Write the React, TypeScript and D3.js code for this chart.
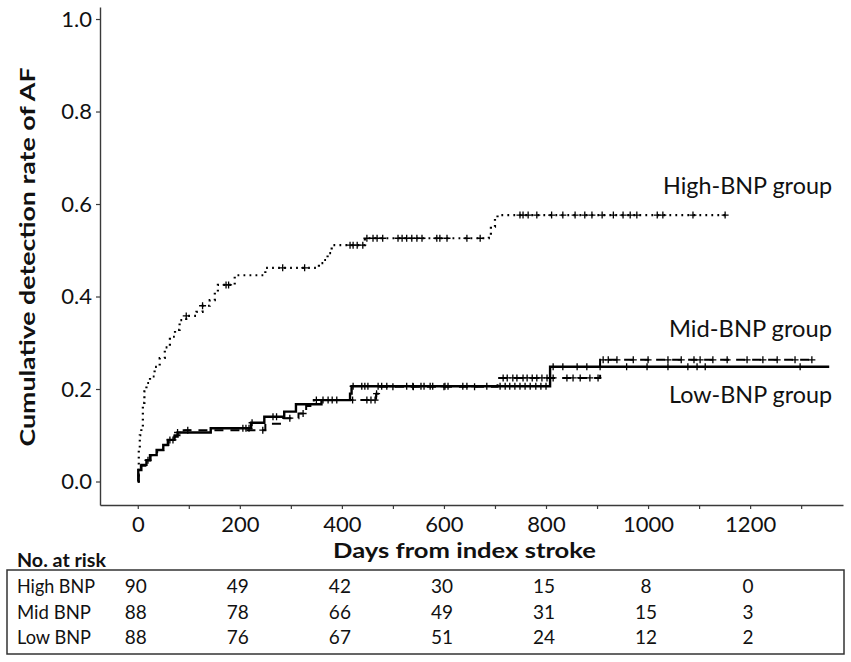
import React, { useRef, useEffect } from 'react';
import * as d3 from 'd3';

// Kaplan-Meier style cumulative incidence steps (day of step, rate after step)
const highTimes = [0, 2, 4, 7, 10, 13, 17, 24, 33, 43, 53, 63, 73, 82, 95, 115, 127, 141, 151, 157, 190, 250, 355, 365, 372, 380, 445, 688, 692, 700, 705];
const highRates = [0, 0.068, 0.1, 0.118, 0.17, 0.195, 0.213, 0.227, 0.248, 0.267, 0.29, 0.313, 0.328, 0.349, 0.358, 0.367, 0.38, 0.392, 0.41, 0.425, 0.446, 0.462, 0.472, 0.479, 0.494, 0.511, 0.526, 0.533, 0.551, 0.569, 0.576];
const highEnd = 1151;

const midTimes = [0, 2, 6, 15, 25, 38, 50, 60, 72, 90, 250, 285, 315, 330, 345, 467, 473, 705, 906];
const midRates = [0, 0.023, 0.034, 0.046, 0.057, 0.068, 0.079, 0.09, 0.1, 0.111, 0.125, 0.137, 0.147, 0.163, 0.176, 0.19, 0.205, 0.224, 0.263];
const midEnd = 1321;

const lowTimes = [0, 1, 7, 17, 24, 37, 50, 59, 72, 78, 143, 222, 248, 287, 310, 360, 416, 419, 808];
const lowRates = [0, 0.025, 0.036, 0.046, 0.057, 0.068, 0.079, 0.09, 0.097, 0.106, 0.115, 0.127, 0.14, 0.151, 0.167, 0.176, 0.19, 0.206, 0.248];
const lowEnd = 1355;

// censored observations (days)
const highCensor = [95, 127, 173, 178, 284, 327, 416, 422, 430, 441, 449, 461, 469, 480, 510, 518, 527, 537, 547, 557, 586, 592, 606, 645, 671, 749, 755, 765, 782, 811, 833, 857, 876, 890, 910, 932, 951, 965, 978, 1018, 1029, 1088, 1151];
const midCensor = [69, 98, 245, 298, 324, 350, 421, 449, 457, 465, 468, 500, 540, 600, 660, 716, 724, 735, 743, 755, 763, 773, 782, 792, 802, 814, 841, 853, 867, 886, 902, 912, 922, 939, 971, 1000, 1039, 1065, 1090, 1102, 1127, 1155, 1194, 1225, 1253, 1288, 1321];
const lowCensor = [20, 63, 78, 206, 212, 218, 224, 265, 272, 363, 373, 381, 390, 422, 439, 445, 451, 471, 478, 488, 527, 539, 555, 561, 573, 578, 602, 608, 637, 645, 684, 710, 720, 729, 739, 749, 759, 769, 780, 790, 800, 814, 833, 861, 880, 906, 958, 998, 1039, 1078, 1096, 1112, 1298];

// number at risk table
const riskDays = [0, 200, 400, 600, 800, 1000, 1200];
const riskGroups = ['High BNP', 'Mid BNP', 'Low BNP'];
const riskHigh = [90, 49, 42, 30, 15, 8, 0];
const riskMid = [88, 78, 66, 49, 31, 15, 3];
const riskLow = [88, 76, 67, 51, 24, 12, 2];

const groupLabels = ['High-BNP group', 'Mid-BNP group', 'Low-BNP group'];

const FONT = 'Lato, "Open Sans", sans-serif';

const App: React.FC = () => {
  const svgRef = useRef<SVGSVGElement | null>(null);

  useEffect(() => {
    if (!svgRef.current) return;
    const svg = d3.select(svgRef.current);
    svg.selectAll('*').remove();

    const x = d3.scaleLinear().domain([-74, 1382]).range([100, 843]);
    const y = d3.scaleLinear().domain([-0.0508, 1.026]).range([505, 7]);

    // X axis
    const xAxis = svg
      .append('g')
      .attr('transform', 'translate(0,505)')
      .call(
        d3
          .axisBottom(x)
          .tickValues(d3.range(0, 1400, 100))
          .tickFormat(d => ((d as number) % 200 === 0 ? String(d) : ''))
          .tickSize(4)
          .tickSizeOuter(0)
          .tickPadding(7)
      );

    // Y axis
    const yAxis = svg
      .append('g')
      .attr('transform', 'translate(100,0)')
      .call(
        d3
          .axisLeft(y)
          .tickValues([0, 0.2, 0.4, 0.6, 0.8, 1.0])
          .tickFormat(d3.format('.1f'))
          .tickSize(4)
          .tickSizeOuter(0)
          .tickPadding(4)
      );

    [xAxis, yAxis].forEach(g => {
      g.select('.domain').attr('stroke', '#3a3a3a').attr('stroke-width', 1.4);
      g.selectAll('.tick line').attr('stroke', '#3a3a3a').attr('stroke-width', 1.2);
      g.selectAll('.tick text')
        .attr('font-family', FONT)
        .attr('font-size', 22)
        .attr('fill', '#111');
    });

    const line = d3
      .line<[number, number]>()
      .x(d => x(d[0]))
      .y(d => y(d[1]))
      .curve(d3.curveStepAfter);

    const series = [
      { times: highTimes, rates: highRates, end: highEnd, censor: highCensor, dash: '1.8 4.2', width: 2.2 },
      { times: midTimes, rates: midRates, end: midEnd, censor: midCensor, dash: '9 7', width: 2 },
      { times: lowTimes, rates: lowRates, end: lowEnd, censor: lowCensor, dash: null, width: 2.4 },
    ];

    series.forEach(s => {
      const pts: [number, number][] = s.times.map((t, i) => [t, s.rates[i]]);
      pts.push([s.end, s.rates[s.rates.length - 1]]);
      const p = svg
        .append('path')
        .attr('d', line(pts))
        .attr('fill', 'none')
        .attr('stroke', '#000')
        .attr('stroke-width', s.width);
      if (s.dash) p.attr('stroke-dasharray', s.dash);

      const rateAt = (t: number) => s.rates[Math.max(0, d3.bisectRight(s.times, t) - 1)];
      svg
        .append('g')
        .selectAll('path')
        .data(s.censor)
        .enter()
        .append('path')
        .attr('d', t => {
          const cx = x(t);
          const cy = y(rateAt(t));
          return `M${cx - 3.5},${cy}h7M${cx},${cy - 3.5}v7`;
        })
        .attr('stroke', '#000')
        .attr('stroke-width', 1.3)
        .attr('fill', 'none');
    });

    // group labels
    const labelY = [194, 337, 403];
    const labelLen = [169, 163, 163];
    groupLabels.forEach((lab, i) => {
      svg
        .append('text')
        .attr('x', 832)
        .attr('y', labelY[i])
        .attr('text-anchor', 'end')
        .attr('font-family', FONT)
        .attr('font-size', 24)
        .attr('fill', '#111')
        .attr('textLength', labelLen[i])
        .attr('lengthAdjust', 'spacingAndGlyphs')
        .text(lab);
    });

    // axis titles
    svg
      .append('text')
      .attr('transform', 'translate(35,257) rotate(-90)')
      .attr('text-anchor', 'middle')
      .attr('font-family', FONT)
      .attr('font-weight', 'bold')
      .attr('font-size', 21)
      .attr('fill', '#111')
      .attr('textLength', 379)
      .attr('lengthAdjust', 'spacingAndGlyphs')
      .text('Cumulative detection rate of AF');

    svg
      .append('text')
      .attr('x', 333)
      .attr('y', 558)
      .attr('font-family', FONT)
      .attr('font-weight', 'bold')
      .attr('font-size', 20)
      .attr('fill', '#111')
      .attr('textLength', 263)
      .attr('lengthAdjust', 'spacingAndGlyphs')
      .text('Days from index stroke');

    // risk table
    svg
      .append('text')
      .attr('x', 17)
      .attr('y', 567)
      .attr('font-family', FONT)
      .attr('font-weight', 'bold')
      .attr('font-size', 18)
      .attr('fill', '#111')
      .attr('textLength', 89)
      .attr('lengthAdjust', 'spacingAndGlyphs')
      .text('No. at risk');

    svg
      .append('rect')
      .attr('x', 7)
      .attr('y', 570)
      .attr('width', 837)
      .attr('height', 84)
      .attr('fill', 'none')
      .attr('stroke', '#333')
      .attr('stroke-width', 1.5);

    const rowY = [593, 619, 644];
    const rowVals = [riskHigh, riskMid, riskLow];
    riskGroups.forEach((g, i) => {
      svg
        .append('text')
        .attr('x', 17)
        .attr('y', rowY[i])
        .attr('font-family', FONT)
        .attr('font-size', 19)
        .attr('fill', '#111')
        .attr('textLength', g === 'High BNP' ? 78 : 74)
        .attr('lengthAdjust', 'spacingAndGlyphs')
        .text(g);
      svg
        .append('g')
        .selectAll('text')
        .data(rowVals[i])
        .enter()
        .append('text')
        .attr('x', (_, j) => x(riskDays[j]) - 2)
        .attr('y', rowY[i])
        .attr('text-anchor', 'middle')
        .attr('font-family', FONT)
        .attr('font-size', 19)
        .attr('fill', '#111')
        .text(d => d);
    });
  }, []);

  return (
    <svg
      ref={svgRef}
      width={851}
      height={662}
      style={{ position: 'absolute', left: 0, top: 0, background: '#fff' }}
    />
  );
};

export default App;
